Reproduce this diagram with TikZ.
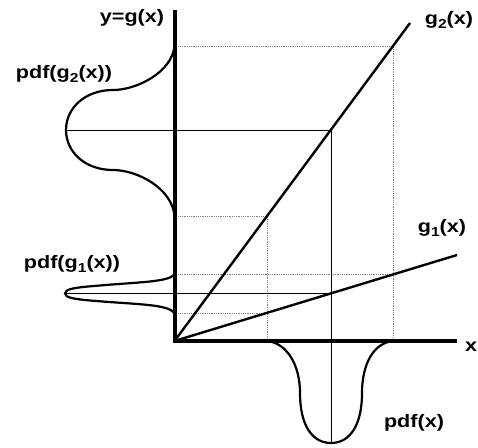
\documentclass[tikz,border=0pt]{standalone}
\usepackage{fontspec}
\newfontfamily\labfont{Liberation Sans}[FakeStretch=1.2]
\newcommand\subtxt[1]{\raisebox{-0.22em}{\fontsize{13}{13}\selectfont #1}}
\begin{document}
\begin{tikzpicture}[x=1pt,y=-1pt,
  axisline/.style={line width=4pt, line join=miter},
  gline/.style={line width=2.4pt},
  pdfcurve/.style={line width=2.2pt},
  guide/.style={line width=0.8pt},
  dotguide/.style={line width=0.8pt, gray, densely dotted},
  lab/.style={font=\labfont\bfseries\fontsize{18}{18}\selectfont, inner sep=0pt}]
\useasboundingbox (0,0) rectangle (478,447);
% key points
\coordinate (O) at (174.5,341);
\coordinate (ytop) at (174.5,10);
\coordinate (xend) at (457,341);
\coordinate (g2end) at (410,23);
\coordinate (g1end) at (457,255);
\coordinate (a1) at (267,341);
\coordinate (a2) at (331,341);
\coordinate (a3) at (393,341);
\coordinate (g2a1) at (267,216);
\coordinate (g2a2) at (331,130);
\coordinate (g2a3) at (393,46);
\coordinate (g1a1) at (267,313);
\coordinate (g1a2) at (331,293.4);
\coordinate (g1a3) at (393,274.5);
\coordinate (y2top) at (174.5,46);
\coordinate (y2mid) at (174.5,216);
\coordinate (y1top) at (174.5,274.5);
\coordinate (y1bot) at (174.5,313);
\coordinate (p2) at (66,130);
\coordinate (p1) at (65,293.4);
\coordinate (px) at (331,443);
% dotted guides
\draw[dotguide] (y2top) -- (g2a3) -- (a3);
\draw[dotguide] (y2mid) -- (g2a1) -- (a1);
\draw[dotguide] (y1top) -- (g1a3);
\draw[dotguide] (y1bot) -- (g1a1);
% solid thin guides
\draw[guide] (p2) -- (g2a2) -- (px);
\draw[guide] (p1) -- (g1a2);
% pdf curves
\draw[pdfcurve] (y2top) .. controls (172,72) and (137,90) .. (113,90)
  .. controls (85,90) and (66,108) .. (p2)
  .. controls (66,152) and (85,170) .. (113,170)
  .. controls (137,170) and (172,188) .. (y2mid);
\draw[pdfcurve] (y1top) .. controls (168,282) and (140,282) .. (100,285.5)
  .. controls (74,287.5) and (65,289) .. (p1)
  .. controls (65,297.8) and (74,299.3) .. (100,301.3)
  .. controls (140,304.5) and (168,304.5) .. (y1bot);
\draw[pdfcurve] (a1) .. controls (287,343) and (300,365) .. (300,393)
  .. controls (300,425) and (312,443) .. (px)
  .. controls (350,443) and (362,425) .. (362,393)
  .. controls (362,365) and (373,343) .. (a3);
% g lines
\draw[gline] (O) -- (g2end);
\draw[gline] (O) -- (g1end);
% axes
\draw[axisline] (ytop) -- (O) -- (xend);
% labels
\node[lab] (ylab) at (132,18) {y=g(x)};
\node[lab] (pg2) at (64,74) {pdf(g\subtxt{2}(x))};
\node[lab] (pg1) at (72,264) {pdf(g\subtxt{1}(x))};
\node[lab] (g2lab) at (449,20) {g\subtxt{2}(x)};
\node[lab] (g1lab) at (442,228) {g\subtxt{1}(x)};
\node[lab] (xlab) at (471,347) {x};
\node[lab] (pxlab) at (414,423) {pdf(x)};
\end{tikzpicture}
\end{document}
